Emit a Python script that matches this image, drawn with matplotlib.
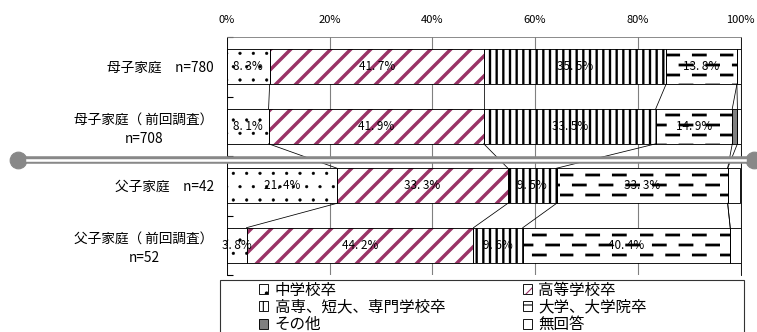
import warnings

import matplotlib

matplotlib.use('Agg')
import matplotlib.hatch as mhatch
import numpy as np
from matplotlib import pyplot as plt
from matplotlib.lines import Line2D
from matplotlib.patches import Patch, Rectangle
from matplotlib.path import Path

warnings.filterwarnings('ignore')

groups = ['母子家庭　n=780', '母子家庭（ 前回調査）\nn=708', '父子家庭　n=42', '父子家庭（ 前回調査）\nn=52']
categories = ['中学校卒', '高等学校卒', '高専、短大、専門学校卒', '大学、大学院卒', 'その他', '無回答']
junior_high = [8.3, 8.1, 21.4, 3.8]
high_school = [41.7, 41.9, 33.3, 44.2]
college = [35.5, 33.5, 9.5, 9.6]
university = [13.8, 14.9, 33.3, 40.4]
other = [0.0, 1.0, 0.0, 0.0]
no_answer = [0.7, 0.6, 2.5, 2.0]
x_ticks = [0, 20, 40, 60, 80, 100]


class DashHatch(mhatch.HatchPatternBase):
    """staggered short dashes, used with the '_' hatch character"""
    rows = 8
    dashes = 3
    dash_len = 0.15

    def __init__(self, hatch, density):
        self.num_vertices = self.rows * self.dashes * 2 if hatch.count('_') else 0

    def set_vertices_and_codes(self, vertices, codes):
        k = 0
        for i in range(self.rows):
            shift = 0.5 / self.dashes if i % 2 else 0.0
            y = (i + 0.5) / self.rows
            for j in range(self.dashes):
                x0 = j / self.dashes + shift
                vertices[k] = (x0, y)
                vertices[k + 1] = (x0 + self.dash_len, y)
                codes[k] = Path.MOVETO
                codes[k + 1] = Path.LINETO
                k += 2


class WideDiagHatch(mhatch.HatchPatternBase):
    """45 degree stripes, 4 per tile, used with the '~' hatch character"""
    per_tile = 4

    def __init__(self, hatch, density):
        self.num_lines = 2 * self.per_tile if hatch.count('~') else 0
        self.num_vertices = (self.num_lines + 1) * 2 if self.num_lines else 0

    def set_vertices_and_codes(self, vertices, codes):
        steps = np.linspace(-0.5, 0.5, self.num_lines + 1)
        vertices[0::2, 0] = 0.0 + steps
        vertices[0::2, 1] = 0.0 - steps
        vertices[1::2, 0] = 1.0 + steps
        vertices[1::2, 1] = 1.0 - steps
        codes[0::2] = Path.MOVETO
        codes[1::2] = Path.LINETO


mhatch._hatch_types.extend([DashHatch, WideDiagHatch])

plt.rcParams['font.family'] = ['Noto Sans CJK JP', 'DejaVu Sans']

W, H, DPI = 757, 332, 80
fig = plt.figure(figsize=(W / DPI, H / DPI), dpi=DPI)
ax = fig.add_axes([227 / W, 1 - 275 / H, (740.5 - 227) / W, (275 - 37) / H])

series = [junior_high, high_school, college, university, other, no_answer]
# hatch, hatch colour, hatch linewidth, face colour
styles = [
    ('.', 'black', 0.4, 'white'),
    ('~', '#993366', 3.1, 'white'),
    ('||', 'black', 2.1, 'white'),
    ('_', 'black', 2.5, 'white'),
    (None, 'black', 1.0, '#808080'),
    (None, 'black', 1.0, 'white'),
]

y = np.arange(len(groups))
bar_h = 0.59
left = np.zeros(len(groups))
bounds = []
handles = []
for vals, (hatch, hcol, hlw, face), name in zip(series, styles, categories):
    vals = np.array(vals)
    with plt.rc_context({'hatch.linewidth': hlw}):
        fill = ax.barh(y, vals, left=left, height=bar_h, color=face,
                       edgecolor=hcol, linewidth=0, hatch=hatch, zorder=2)
    for p in fill:
        if hasattr(p, 'set_hatch_linewidth'):
            p.set_hatch_linewidth(hlw)
    ax.barh(y, vals, left=left, height=bar_h, fill=False,
            edgecolor='black', linewidth=0.8, zorder=3)
    for yi, l, v in zip(y, left, vals):
        if v >= 3:
            ax.text(l + v / 2, yi, f'{v:.1f}%'.replace('.', '. '),
                    ha='center', va='center', fontsize=10.5, zorder=4)
    left = left + vals
    bounds.append(left.copy())
    with plt.rc_context({'hatch.linewidth': min(hlw, 1.2)}):
        h1 = Patch(facecolor=face, edgecolor=hcol, linewidth=0, hatch=hatch)
    h2 = Patch(fill=False, edgecolor='black', linewidth=0.8)
    handles.append((h1, h2))

# connector lines between neighbouring bars
for b in bounds[:-1]:
    for i in range(len(groups) - 1):
        ax.plot([b[i], b[i + 1]], [y[i] + bar_h / 2, y[i + 1] - bar_h / 2],
                color='black', linewidth=0.7, zorder=3)

ax.set_xlim(0, 100)
ax.set_ylim(3.5, -0.5)
ax.xaxis.tick_top()
ax.set_xticks(x_ticks)
ax.set_xticklabels([f'{t}%' for t in x_ticks], fontsize=10)
ax.tick_params(axis='x', length=0, pad=11)
ax.set_yticks(y)
ax.set_yticklabels(groups, fontsize=12.3, multialignment='center', linespacing=1.4)
ax.set_yticks(np.arange(-0.5, 4, 1), minor=True)
ax.tick_params(axis='y', which='major', length=0, pad=12)
ax.tick_params(axis='y', which='minor', direction='in', length=5, width=1, color='black')
ax.xaxis.grid(True, color='#808080', linewidth=1)
ax.set_axisbelow(True)
ax.spines['bottom'].set_visible(False)
ax.spines['top'].set_color('#808080')
ax.spines['left'].set_color('black')
ax.spines['right'].set_color('black')

# separator across the figure
sep_y = 1 - 160 / H
fig.add_artist(Line2D([18 / W, 754 / W], [sep_y, sep_y], color='#888888',
                      linewidth=6.8, marker='o', markersize=15, zorder=5))
fig.add_artist(Line2D([27 / W, 745 / W], [sep_y, sep_y], color='white',
                      linewidth=2.3, zorder=6))

# legend box and entries
fig.add_artist(Rectangle((220 / W, -0.1), (744 - 220) / W, 1 - 280 / H + 0.1,
                         fill=False, edgecolor='#333333', linewidth=1,
                         transform=fig.transFigure))
order = [0, 2, 4, 1, 3, 5]
fig.legend([handles[i] for i in order], [categories[i] for i in order],
           loc='upper left', bbox_to_anchor=(259 / W, 1 - 281.5 / H), ncol=2,
           frameon=False, fontsize=14, handlelength=0.6, handleheight=0.6,
           handletextpad=0.4, labelspacing=0.02, columnspacing=5.0,
           borderpad=0, borderaxespad=0)

fig.savefig('out.png', dpi=DPI)
